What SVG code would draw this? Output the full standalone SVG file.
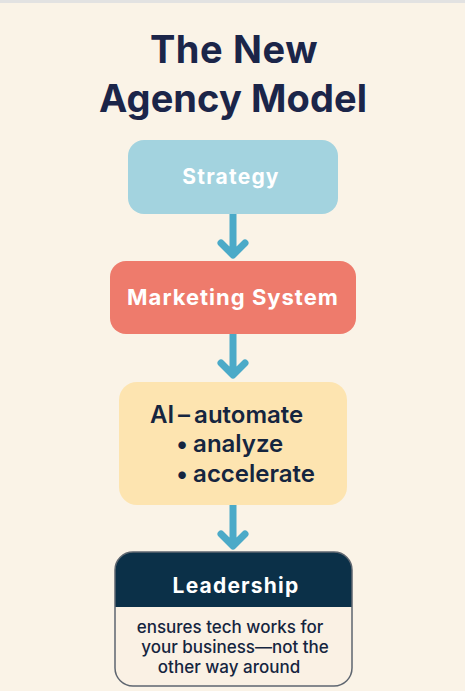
<svg xmlns="http://www.w3.org/2000/svg" width="465" height="691" viewBox="0 0 465 691">
<defs>
<style>
.title{font-family:Inter,"Noto Sans",sans-serif;font-weight:700;font-size:38px;letter-spacing:0.6px;fill:#1B2549;text-anchor:middle}
.lbl{font-family:Inter,"Noto Sans",sans-serif;font-weight:700;font-size:21px;letter-spacing:1.2px;fill:#FFFFFF;text-anchor:middle}
.ai{font-family:Inter,"Noto Sans",sans-serif;font-weight:600;font-size:24px;fill:#15253F}
.body{font-family:Inter,"Noto Sans",sans-serif;font-weight:500;font-size:17px;fill:#15253F;text-anchor:middle}
.arr{stroke:#4BAAC8;stroke-width:7;fill:none;stroke-linecap:round;stroke-linejoin:round}
</style>
<clipPath id="lc"><rect x="115" y="552" width="237" height="134" rx="18"/></clipPath>
</defs>
<rect x="0" y="0" width="465" height="691" fill="#FAF3E7"/>
<rect x="0" y="0" width="465" height="3" fill="#E2E2E2"/>
<g id="title">
<text class="title" x="234" y="63">The New</text>
<text class="title" x="233" y="112" style="letter-spacing:0.1px">Agency Model</text>
</g>
<g id="connectors">
<path class="arr" d="M233 214V254M221 243L233 255L245 243"/>
<path class="arr" d="M233 334V374M221 363L233 375L245 363"/>
<path class="arr" d="M233 505V545M221 534L233 546L245 534"/>
</g>
<g id="strategy">
<rect x="128" y="140" width="210" height="74" rx="16" fill="#A3D3DF"/>
<text class="lbl" x="231" y="184">Strategy</text>
</g>
<g id="marketing">
<rect x="110" y="261" width="246" height="73" rx="16" fill="#EE7B6C"/>
<text class="lbl" x="233" y="305" style="font-size:22px;letter-spacing:1px">Marketing System</text>
</g>
<g id="ai">
<rect x="119" y="382" width="228" height="123" rx="18" fill="#FDE4B0"/>
<text class="ai" x="150" y="423">AI<tspan dx="4">–</tspan><tspan dx="4">automate</tspan></text>
<text class="ai" x="176" y="452">•<tspan dx="5">analyze</tspan></text>
<text class="ai" x="176" y="482">•<tspan dx="5">accelerate</tspan></text>
</g>
<g id="leadership">
<g clip-path="url(#lc)">
<rect x="115" y="552" width="237" height="134" fill="#FAF1E4"/>
<rect x="115" y="552" width="237" height="55" fill="#0B3048"/>
</g>
<rect x="115" y="552" width="237" height="134" rx="18" fill="none" stroke="#5E6670" stroke-width="1.5"/>
<text class="lbl" x="236" y="593">Leadership</text>
<text class="body" x="230" y="633">ensures tech works for</text>
<text class="body" x="235" y="653">your business—not the</text>
<text class="body" x="229" y="673">other way around</text>
</g>
</svg>
